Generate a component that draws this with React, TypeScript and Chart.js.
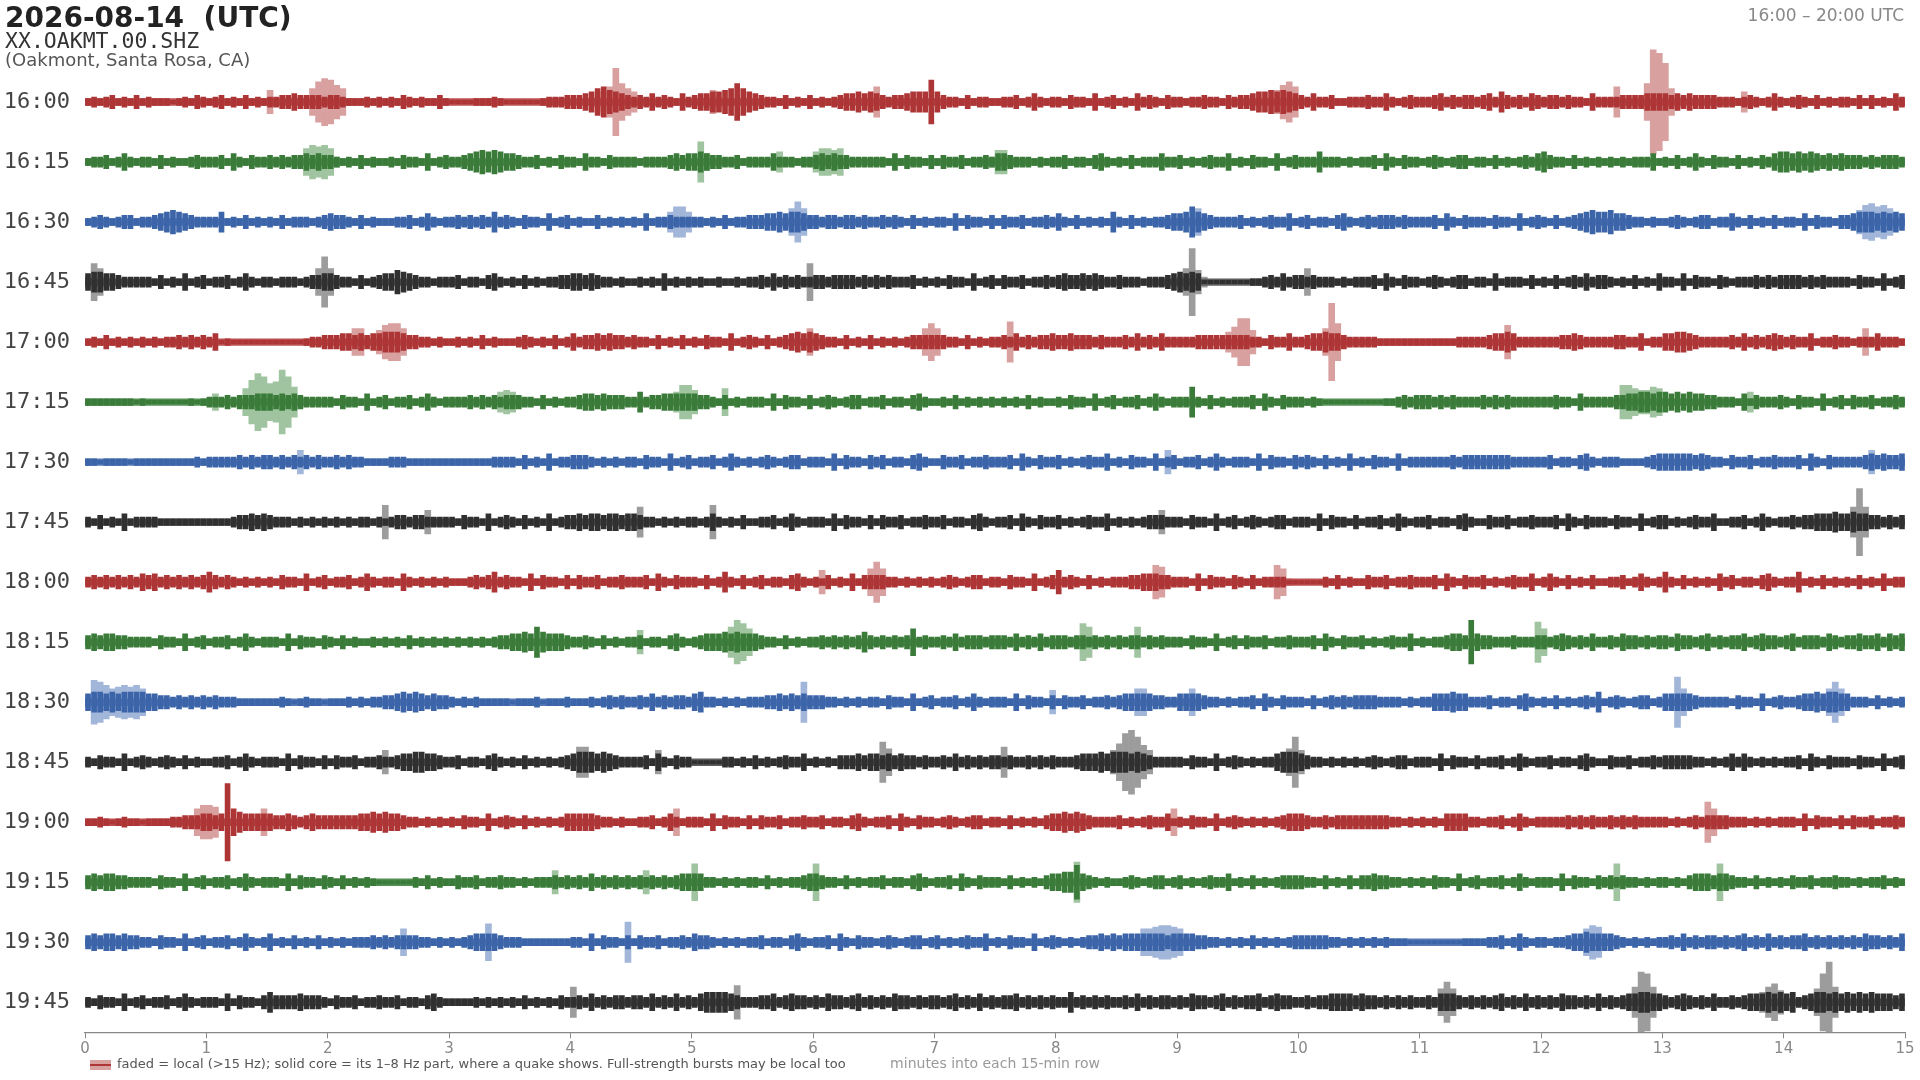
import React, { useEffect, useRef } from "react";
import { Chart, registerables } from "chart.js";

Chart.register(...registerables);

// ---------- data ----------
const rowLabels = [
  "16:00", "16:15", "16:30", "16:45", "17:00", "17:15", "17:30", "17:45",
  "18:00", "18:15", "18:30", "18:45", "19:00", "19:15", "19:30", "19:45",
];

const xTicks = [0, 1, 2, 3, 4, 5, 6, 7, 8, 9, 10, 11, 12, 13, 14, 15];

// 1-8 Hz core envelope, one character per 0.05 min (base-36 amplitude steps), 10 chars per half minute
const coreTraces = [
  "2323423242 3222123243 2342324232 3344544443 4432223232 3243232242 1111222321 1111123334 4456897654 3435343253 4556678b86 5433242324 2323455656 543445666d 6433242332 2334235323 3243325234 2325343243 3233433243 4456676765 4353342233 3433532343 3345343443 4536434354 3443433253 3334444555 5454544443 3323432353 2343242323 3242423253",
  "2334235323 3242322343 3342532433 4343445454 4323242322 3243325234 3345676765 5433423243 3253324333 3233334545 5654433423 3335333233 4545443333 3325243324 2433423343 5543332323 3423324532 3242333533 4232343352 3243325234 3336333232 3342532433 2343234423 3242323435 6433242323 2323233352 3242353243 3242324356 6565654545 4443434443",
  "2343234423 3456765433 3362324232 3242333234 5443242322 2334235323 3434343634 3243325234 2322423232 3252334333 3323242334 4455656654 4344344343 3434324232 3325243324 2433423343 5324232326 3242323345 5696543333 4232343352 3423324532 3434443433 3342532433 3243325234 3242345676 6755433232 2343234423 3532423242 3325243324 4566656565",
  "5665543333 3242325234 2334235323 3233323445 5433242345 5765433233 3423324532 3242323344 5545433232 2323252323 2322322323 3435343433 4434444343 4343334232 3243325234 2433423343 4544545433 4333233345 6565111111 1122343534 4343332323 3342532433 2343234423 3252333242 3242343534 4323242325 3325243324 3233343434 4443434333 3243325234",
  "2324232323 2323343434 3512111111 1111112334 4455454556 6654433232 2323242322 2343232423 5344545443 4332423242 3243325234 3242345656 5433242324 2323234444 4433242323 3435343445 4454443433 3435343533 3334444444 4433243353 3455655433 3332222222 2222223333 3455653333 3334454333 3344335233 5566543333 3435343454 3433523343 3233353332",
  "2222222212 1111111212 3334344455 5454543333 3243325234 2334235323 3334343434 4433242323 3455454443 3634455555 5443242323 3325243324 2343234423 3423324532 2324232323 2323242322 3243325234 2334235323 3393242323 3342532433 3232111111 1111223434 4434343333 4343433333 3343325333 3344556656 6565655443 3325243334 3243325234 2433423343",
  "2212222122 2222222232 3333343434 4343434343 3434332222 3332222222 2222222333 3242325233 4443232323 3243325234 2334235323 2343234423 3325243324 3423324532 2433423343 3342532433 4232343352 3243325234 2334235323 3325243324 3432423252 3243325233 3333343444 4444433333 3423324532 3332222345 5555545433 2433423343 3342532433 3334545445",
  "3242325233 3322222222 2222344545 4333232323 2323233232 3443443333 3243325234 3242325234 4545545545 5433232323 3235323242 2334235323 3325243324 2433423343 3423324532 3342532433 4232343352 3232344433 3243325234 2343234423 3325243324 2334235323 3423324532 2433423343 3342532433 3243325234 4232343352 2334235323 3434455565 5655443434",
  "3434343435 4534343434 6434323232 3243325234 2334235323 3253232323 2223434634 3325243324 2433423343 3342532433 3242363242 3423324532 3242325244 4433232323 2343234423 3243325234 7343242323 3344555443 3325243324 3242333311 1111324232 2433423343 3342532433 4232343352 3532423242 2334235323 6324232325 3423324532 3362324232 3242325233",
  "4545544333 3243325234 2334235323 3325243324 3242322323 2324232323 2323232344 5565965554 3343242323 3423324532 3455565655 5433242323 3434343464 3434348343 3435344434 4435343534 4434434343 4344343433 3243325234 2433423343 3342532433 4232343352 32334554d5 4433343334 4345434353 3435443434 4354434534 3445345443 4534443543 4454453545",
  "5665656666 5544343434 3433322222 2232123221 2223232334 4565654544 3232322222 1222312223 2223234343 3435343443 5633232323 3344545454 4433232323 3243325234 2334235323 3325243324 2433423343 4555554433 5555433232 3342532433 3242343434 4443333232 3355565533 3423324532 3242323436 2343234423 5555543333 3243325234 3345565665 5333242323",
  "3243325234 3234324232 2334235323 3325243324 2433423343 3455665543 3423324532 3242323234 5666565433 3342532433 1111133232 4232343352 3232444545 5454544343 3435343434 4343343434 3334555656 6656543333 3243325234 3232335666 5433232323 2343234423 3325243324 2334235323 3423324532 2433423343 4444433232 3535323232 3342532433 3243325234",
  "2232123221 2222334445 545n865555 5445434544 4444455656 5543323232 3243325234 3242323235 5555433232 2334235323 3325243324 2433423343 3423324532 3342532433 2343234423 3242323245 5656543333 4232343352 3243325234 3232323455 5433434444 4444433232 3232555533 2334235323 3333434343 3434343333 3232343444 4333232323 3325243324 2433423343",
  "4545544333 3243325234 2334235323 3325243324 3242323211 1111324232 2433423343 3232333434 3435343434 3434343455 5533232323 3242323345 5433242323 3423324532 3342532433 3242323245 566a543232 2343234423 4232343352 3242323444 4332423242 4454433232 3243325234 2334235323 3325243324 3434332323 3232455545 5433242323 2433423343 3232334232",
  "4545545443 3243325234 2334235323 5232423242 3232333434 3444433232 3234555543 3322222222 3325243324 2433423343 5443232323 3423324532 3342532433 2343234423 4232343352 3243325234 3232344545 4555555545 5554433232 3242323234 4444433232 3232322211 1111111222 2334235323 3233455655 5543232323 3435343443 4345343534 3445343434 3435443435",
  "3243325234 2334235323 3325243324 6444454443 2433423343 3423324532 2222323232 3242323243 3435343443 4435343534 3566665433 3445345443 4354434534 3435443434 4345343534 3445343434 3363434343 3435343443 4354434534 3445345443 3434455554 5443434343 3435554343 4345343534 3435443435 3434556655 4345434353 3434555656 5634566565 6565655545",
];

// faded local (>15 Hz) bursts: [start minute, amplitude run at 0.05 min steps]
const localBursts: [number, string][][] = [
  [[1.45, "272"], [1.8, "28ceda82"], [4.2, "369kb86"], [5.1, "373"], [6.4, "2593"], [9.75, "27ac92"], [12.55, "292"], [12.8, "3bvtn83"], [13.6, "262"]],
  [[1.75, "38a9a83"], [5.0, "2c52"], [5.65, "262"], [5.95, "2688782"], [7.45, "3773"]],
  [[4.75, "26996"], [5.75, "38c83"], [9.1, "383"], [14.55, "37ab9a83"]],
  [[0.0, "3b83"], [1.85, "28f82"], [5.9, "2b2"], [9.0, "38k73"], [10.0, "282"]],
  [[2.15, "2882"], [2.35, "27abb83"], [5.9, "282"], [6.85, "28b82"], [7.55, "2c2"], [9.35, "269ee72"], [10.15, "28nb3"], [11.65, "2a2"], [14.6, "282"]],
  [[1.0, "252"], [1.25, "28dhfbcjf93"], [3.35, "26763"], [4.8, "26aa72"], [5.2, "282"], [12.6, "2aa877982"], [13.65, "262"]],
  [[1.7, "272"], [8.85, "272"], [14.65, "272"]],
  [[2.4, "2a2"], [2.75, "272"], [4.5, "292"], [5.1, "2a2"], [8.8, "272"], [14.5, "29k92"]],
  [[6.0, "272"], [6.4, "28c82"], [8.75, "2a92"], [9.75, "2a82"]],
  [[4.5, "272"], [5.25, "29db83"], [8.15, "2b92"], [8.6, "292"], [11.9, "2c82"]],
  [[0.0, "3dca89a9a83"], [5.85, "2c2"], [7.9, "272"], [8.6, "2882"], [9.05, "282"], [13.05, "2f82"], [14.3, "28c82"]],
  [[2.4, "272"], [4.0, "2992"], [4.65, "272"], [6.5, "2c82"], [7.5, "292"], [8.4, "27bhjfa72"], [9.85, "28f72"]],
  [[0.85, "28aa92"], [1.4, "282"], [4.8, "282"], [8.9, "282"], [13.3, "2c82"]],
  [[3.8, "272"], [4.55, "272"], [4.95, "2b2"], [5.95, "2b2"], [8.1, "2c2"], [12.55, "2b2"], [13.4, "2b2"]],
  [[2.55, "282"], [3.25, "2b2"], [4.4, "2c2"], [8.65, "2889aa982"], [12.3, "28a92"]],
  [[3.95, "292"], [5.3, "2a2"], [11.1, "28c82"], [12.7, "29ih93"], [13.75, "269b72"], [14.2, "28ho92"]],
];

const haloLevels = [2.2, 2.2, 2.2, 2.2, 2.2, 2.2, 2.2, 2.2, 2.2, 2.2, 2.2, 2.2, 2.2, 2.2, 2.2, 2.2];

// ---------- styles ----------
const palette = [
  { core: "#ad3535", halo: "#bb4f4f", faded: "#d9a0a0" },
  { core: "#3a7b3a", halo: "#538e53", faded: "#a0c4a0" },
  { core: "#3b64a9", halo: "#5879b5", faded: "#a2b6d9" },
  { core: "#303030", halo: "#5c5c5c", faded: "#9c9c9c" },
];
const BIN = 0.05; // minutes per character
const UNIT = 0.028; // row units per amplitude step
const CORE_PX = 5;
const FADED_PX = 6;
const amp = (c: string) => parseInt(c, 36);

function buildDatasets() {
  const datasets: any[] = [];
  const barSet = (pts: { x: number; a: number }[], r: number, color: string, order: number, px: number) => {
    datasets.push({
      type: "bar",
      data: pts.map((p) => ({ x: p.x, y: [r - p.a * UNIT, r + p.a * UNIT] })),
      backgroundColor: color,
      borderWidth: 0,
      borderSkipped: false,
      grouped: false,
      barThickness: px,
      order,
    });
  };
  rowLabels.forEach((_, r) => {
    const col = palette[r % 4];
    // faded local layer
    const fpts: { x: number; a: number }[] = [];
    localBursts[r].forEach(([start, s]) => {
      s.split("").forEach((c, j) => fpts.push({ x: start + j * BIN + BIN / 2, a: amp(c) }));
    });
    barSet(fpts, r, col.faded, 3, FADED_PX);
    // continuous band
    const h = haloLevels[r];
    const upIdx = datasets.length;
    const common = {
      type: "line",
      borderWidth: 0,
      borderColor: "rgba(0,0,0,0)",
      backgroundColor: col.halo,
      pointRadius: 0,
      order: 2,
    };
    datasets.push({ ...common, data: [{ x: 0, y: r - h * UNIT }, { x: 15, y: r - h * UNIT }], fill: false });
    datasets.push({ ...common, data: [{ x: 0, y: r + h * UNIT }, { x: 15, y: r + h * UNIT }], fill: upIdx });
    // solid core
    const groups = coreTraces[r].split(" ");
    const pts: { x: number; a: number }[] = [];
    groups.forEach((g, gi) => {
      g.split("").forEach((c, i) => pts.push({ x: gi * 0.5 + i * BIN + BIN / 2, a: amp(c) }));
    });
    barSet(pts, r, col.core, 1, CORE_PX);
  });
  return datasets;
}

const textPlugin = {
  id: "helicorderTexts",
  afterDraw(chart: any) {
    const ctx = chart.ctx as CanvasRenderingContext2D;
    ctx.save();
    ctx.textBaseline = "alphabetic";
    ctx.textAlign = "left";
    ctx.fillStyle = "#222";
    ctx.font = "bold 28px 'DejaVu Sans'";
    ctx.fillText("2026-08-14  (UTC)", 5, 27);
    ctx.fillStyle = "#333";
    ctx.font = "21.5px 'DejaVu Sans Mono'";
    ctx.fillText("XX.OAKMT.00.SHZ", 5, 48);
    ctx.fillStyle = "#555";
    ctx.font = "18px 'DejaVu Sans'";
    ctx.fillText("(Oakmont, Santa Rosa, CA)", 5, 66);
    ctx.fillStyle = "#888";
    ctx.font = "17px 'DejaVu Sans'";
    ctx.textAlign = "right";
    ctx.fillText("16:00 \u2013 20:00 UTC", 1904, 21);
    // legend
    ctx.fillStyle = palette[0].faded;
    ctx.fillRect(90, 1060, 21, 10);
    ctx.fillStyle = palette[0].core;
    ctx.fillRect(90, 1064, 21, 2);
    ctx.textAlign = "left";
    ctx.textBaseline = "middle";
    ctx.fillStyle = "#555";
    ctx.font = "13px 'DejaVu Sans'";
    ctx.fillText(
      "faded = local (>15 Hz); solid core = its 1\u20138 Hz part, where a quake shows. Full-strength bursts may be local too",
      117,
      1065
    );
    ctx.restore();
  },
};

export default function App() {
  const ref = useRef<HTMLCanvasElement>(null);
  useEffect(() => {
    const canvas = ref.current;
    if (!canvas) return;
    const chart = new Chart(canvas, {
      type: "line",
      data: { datasets: buildDatasets() },
      options: {
        responsive: false,
        animation: false,
        devicePixelRatio: 1,
        events: [],
        layout: { padding: { top: 42, right: 15, bottom: 0, left: 0 } },
        elements: { point: { radius: 0 } },
        plugins: {
          legend: { display: false },
          tooltip: { enabled: false },
          filler: { propagate: false },
        },
        scales: {
          x: {
            type: "linear",
            min: 0,
            max: 15,
            offset: false,
            afterBuildTicks: (s: any) => {
              s.ticks = xTicks.map((v) => ({ value: v }));
            },
            afterFit: (s: any) => {
              s.height = 47.7;
            },
            ticks: {
              color: "#888",
              font: { family: "'DejaVu Sans'", size: 15 },
              padding: 2,
              maxRotation: 0,
              autoSkip: false,
            },
            grid: { display: true, offset: false, drawOnChartArea: false, drawTicks: true, tickLength: 6, color: "#888", lineWidth: 1 },
            border: { display: true, color: "#888", width: 1.2 },
            title: {
              display: true,
              text: "minutes into each 15-min row",
              color: "#999",
              font: { family: "'DejaVu Sans'", size: 14 },
              padding: { top: 7, bottom: 7 },
            },
          },
          y: {
            type: "linear",
            reverse: true,
            min: -1,
            max: 15.5,
            afterBuildTicks: (s: any) => {
              s.ticks = rowLabels.map((_, i) => ({ value: i }));
            },
            afterFit: (s: any) => {
              s.width = 85;
            },
            ticks: {
              callback: (_v: any, i: number) => rowLabels[i] ?? "",
              color: "#444",
              font: { family: "'DejaVu Sans Mono'", size: 22 },
              padding: 15,
              autoSkip: false,
            },
            grid: { display: false, drawTicks: false },
            border: { display: false },
          },
        },
      } as any,
      plugins: [textPlugin],
    });
    return () => chart.destroy();
  }, []);
  return (
    <div style={{ position: "absolute", left: 0, top: 0, width: 1920, height: 1080, background: "#fff" }}>
      <canvas ref={ref} width={1920} height={1080} style={{ display: "block", width: 1920, height: 1080 }} />
    </div>
  );
}
